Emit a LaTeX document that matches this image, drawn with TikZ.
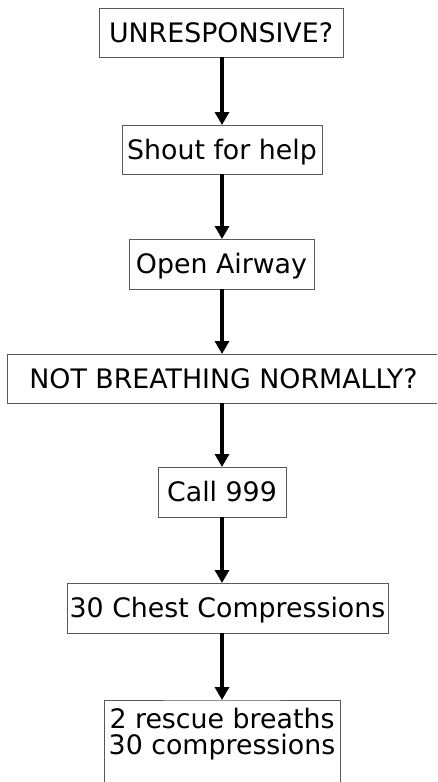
\documentclass[tikz,border=0pt]{standalone}
\usepackage{fontspec}
\setmainfont{DejaVu Sans}
\usetikzlibrary{arrows.meta}
\begin{document}
\begin{tikzpicture}[x=1pt,y=-1pt,
  boxline/.style={draw=black!65, line width=1pt},
  box/.style={boxline, inner sep=0pt, outer sep=0pt, minimum height=49pt,
    text height=19.5pt, text depth=0pt, font=\fontsize{26.8}{26}\selectfont},
  arr/.style={line width=4pt, -{Triangle[width=14pt,length=13pt]}}]
\useasboundingbox (0,0) rectangle (437,782);
\clip (0,0) rectangle (437,782);
\coordinate (ax) at (222,0);
\node[box, minimum width=244pt] (b1) at (221,32.5) {UNRESPONSIVE?};
\node[box, minimum width=200pt] (b2) at (222,149.5) {Shout for help};
\node[box, minimum width=185pt, minimum height=50pt] (b3) at (221.5,264) {Open Airway};
\node[box, minimum width=433pt] (b4) at (223.5,378.5) {NOT BREATHING NORMALLY?};
\node[box, minimum width=128pt, minimum height=50pt] (b5) at (222,492) {Call 999};
\node[box, minimum width=321pt, minimum height=50pt] (b6) at (227.5,608) {30 Chest Compressions};
\node[inner sep=0pt, outer sep=0pt, anchor=north, minimum width=236pt, align=center,
  font=\fontsize{26.8}{26}\selectfont] (b7) at (222,708.6) {2 rescue breaths\\30 compressions};
\coordinate (t7) at ([yshift=8.6pt]b7.north);
\draw[boxline] ([yshift=-60pt]b7.south west) |- (t7) -| ([yshift=-60pt]b7.south east);
\draw[arr] (b1.south -| ax) -- (b2.north -| ax);
\draw[arr] (b2.south -| ax) -- (b3.north -| ax);
\draw[arr] (b3.south -| ax) -- (b4.north -| ax);
\draw[arr] (b4.south -| ax) -- (b5.north -| ax);
\draw[arr] (b5.south -| ax) -- (b6.north -| ax);
\draw[arr] (b6.south -| ax) -- (t7 -| ax);
\end{tikzpicture}
\end{document}
